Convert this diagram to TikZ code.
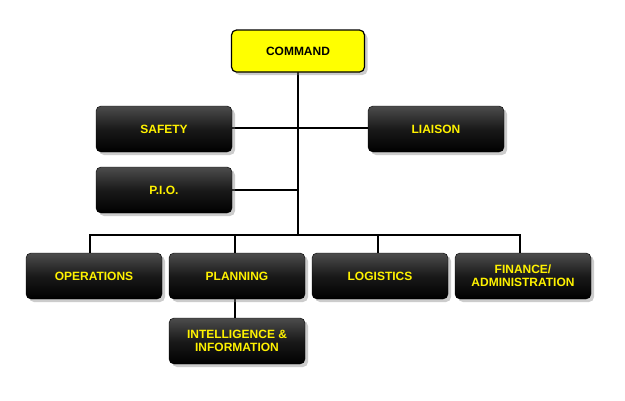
\documentclass[tikz,border=0pt]{standalone}
\usepackage{fontspec}
\setmainfont{Liberation Sans}
\usetikzlibrary{positioning,shadows}
\tikzset{
  unit/.style={draw=black,rounded corners=5pt,minimum width=136pt,minimum height=46pt,
    top color=gray!60!black,bottom color=black,middle color=black!90,
    text=yellow,font=\bfseries\fontsize{12}{13}\selectfont,align=center,
    drop shadow={shadow xshift=3pt,shadow yshift=-3pt,opacity=.4}},
  chief/.style={unit,fill=yellow,top color=yellow,bottom color=yellow,middle color=yellow,
    text=black,line width=1.2pt,minimum width=133pt,minimum height=42pt},
  link/.style={line width=2.5pt,black}
}
\begin{document}
\begin{tikzpicture}[x=1pt,y=-1pt]
\useasboundingbox[fill=white] (0,0) rectangle (625,400);
% lines first
\coordinate (trunk) at (298,235);
\coordinate (mid) at (298,190);
\draw[link] (298,51) -- (trunk);
\draw[link] (164,128) -- (436,128);
\draw[link] (164,190) -- (mid);
\draw[link] (90,277) -- (90,235) -- (520,235) -- (520,277);
\draw[link] (235,235) -- (235,341);
\draw[link] (378,235) -- (378,277);
% boxes
\node[chief] (command) at (298,51) {COMMAND};
\node[unit] (safety) at (164,129) {SAFETY};
\node[unit] (liaison) at (436,129) {LIAISON};
\node[unit] (pio) at (164,190) {P.I.O.};
\node[unit] (ops) at (94,276) {OPERATIONS};
\node[unit] (plan) at (237,276) {PLANNING};
\node[unit] (log) at (380,276) {LOGISTICS};
\node[unit] (fin) at (523,276) {FINANCE/\\ADMINISTRATION};
\node[unit] (intel) at (237,341) {INTELLIGENCE \&\\INFORMATION};
\end{tikzpicture}
\end{document}
